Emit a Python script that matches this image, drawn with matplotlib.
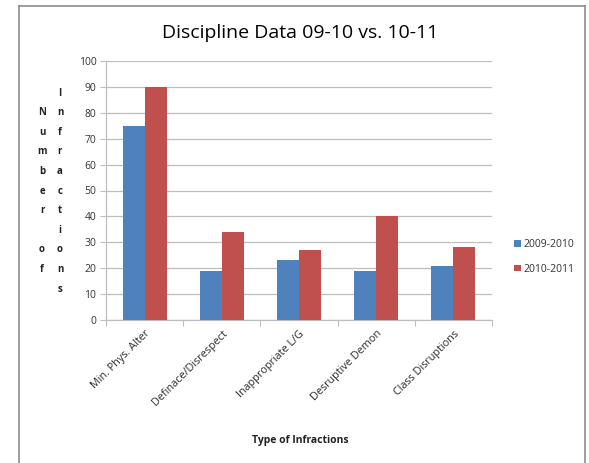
import matplotlib.pyplot as plt
import numpy as np
from matplotlib.lines import Line2D

categories = ["Min. Phys. Alter", "Definace/Disrespect", "Inappropriate L/G",
              "Desruptive Demon", "Class Disruptions"]
y0910 = [75, 19, 23, 19, 21]
y1011 = [90, 34, 27, 40, 28]
series_names = ["2009-2010", "2010-2011"]

W, H = 589, 463
fig = plt.figure(figsize=(W / 100, H / 100), dpi=100)
font = "Open Sans"
plt.rcParams["font.family"] = [font, "DejaVu Sans"]

# plot area in pixels
left, right, top, bottom = 106, 492, 61, 320
ax = fig.add_axes([left / W, 1 - bottom / H, (right - left) / W, (bottom - top) / H])

x = np.arange(len(categories))
w = 1 / 3.5
ax.bar(x - w / 2, y0910, w, color="#4F81BD", label=series_names[0], zorder=3)
ax.bar(x + w / 2, y1011, w, color="#C0504D", label=series_names[1], zorder=3)

ax.set_xlim(-0.5, len(categories) - 0.5)
ax.set_ylim(0, 100)
ax.set_yticks(range(0, 101, 10))
ax.yaxis.grid(True, color="#BEBEBE", linewidth=0.9, zorder=0)
ax.set_axisbelow(True)

ax.set_xticks(np.arange(-0.5, len(categories), 1.0))
ax.set_xticklabels([])
ax.set_xticks(x, minor=True)
ax.set_xticklabels(categories, minor=True, rotation=45, ha="right", va="top",
                   rotation_mode="anchor", fontsize=7.8, color="#2a2a2a")
ax.tick_params(axis="x", which="minor", length=0, pad=6)
ax.tick_params(axis="x", which="major", length=4, color="#BEBEBE")
ax.tick_params(axis="y", length=4, color="#BEBEBE", labelsize=7.5,
               labelcolor="#333333", pad=3)

for s in ["top", "right"]:
    ax.spines[s].set_visible(False)
for s in ["left", "bottom"]:
    ax.spines[s].set_color("#BEBEBE")
    ax.spines[s].set_linewidth(0.9)

fig.text(300 / W, 1 - 33 / H, "Discipline Data 09-10 vs. 10-11", ha="center",
         va="center", fontsize=14, color="#000000")
fig.text(300 / W, 1 - 441 / H, "Type of Infractions", ha="center", va="center",
         fontsize=7.5, fontweight="bold", color="#222222")

# stacked vertical y-axis title
col1 = list("Number") + [""] + list("of")
col2 = list("Infractions")
step = 19.6
for i, ch in enumerate(col2):
    fig.text(60 / W, 1 - (93 + i * step) / H, ch, ha="center", va="center",
             fontsize=7, fontweight="bold", color="#222222")
for i, ch in enumerate(col1):
    fig.text(42 / W, 1 - (93 + (i + 1) * step) / H, ch, ha="center", va="center",
             fontsize=7, fontweight="bold", color="#222222")

leg = fig.legend(loc="center left", bbox_to_anchor=(505 / W, 1 - 257 / H),
                 frameon=False, fontsize=7.5, handlelength=0.6, handleheight=0.6,
                 handletextpad=0.3, labelspacing=1.3)
for t in leg.get_texts():
    t.set_color("#333333")

# chart border (left, top, right)
bc = "#8C8C8C"
fig.add_artist(Line2D([19 / W, 19 / W], [0, 1 - 6 / H], transform=fig.transFigure, color=bc, lw=1.2))
fig.add_artist(Line2D([19 / W, 585 / W], [1 - 6 / H, 1 - 6 / H], transform=fig.transFigure, color=bc, lw=1.2))
fig.add_artist(Line2D([585 / W, 585 / W], [0, 1 - 6 / H], transform=fig.transFigure, color=bc, lw=1.2))

fig.savefig("out.png", dpi=100)
